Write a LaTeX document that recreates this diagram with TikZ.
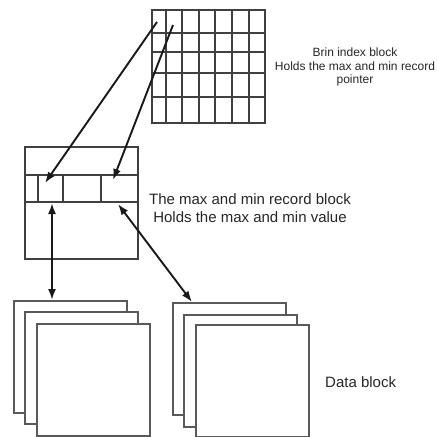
\documentclass[tikz,border=0pt]{standalone}
\usepackage{fontspec}
\setmainfont{Liberation Sans}
\usetikzlibrary{arrows.meta}
\begin{document}
\begin{tikzpicture}[x=1pt,y=-1pt,
  edge/.style={draw=black!75, line width=1.5pt},
  sheet/.style={draw=black!65, line width=1.6pt, fill=white, inner sep=0pt,
    minimum width=113pt, minimum height=112pt, anchor=north west},
  link/.style={draw=black!90, line width=1.9pt,
    -{Latex[length=11pt,width=8pt]}},
  biglink/.style={link, {Latex[length=11pt,width=8pt]}-{Latex[length=11pt,width=8pt]}},
  caption/.style={align=center, inner sep=0pt, text=black!85}]
\useasboundingbox (0,0) rectangle (437,437);

% BRIN index block: 7 x 5 grid
\node[edge, inner sep=0pt, minimum width=113pt, minimum height=113pt,
  anchor=north west] (grid) at (151,9) {};
\foreach \gx in {166,182,199,215,232,249}
  \draw[edge] (\gx,9) -- (\gx,122);
\foreach \gy in {33,52,73,97}
  \draw[edge] (151,\gy) -- (264,\gy);
\coordinate (ptrA) at (157,22);
\coordinate (ptrB) at (173,25);

% max/min record block with its row of cells
\node[edge, inner sep=0pt, minimum width=113pt, minimum height=112pt,
  anchor=north west] (rec) at (24,146) {};
\draw[edge] (24,175) -- (137,175);
\draw[edge] (24,202) -- (137,202);
\foreach \cx in {38,63,101}
  \draw[edge] (\cx,175) -- (\cx,202);
\coordinate (cellA) at (45,183);
\coordinate (cellB) at (113,180);
\coordinate (cellAbot) at (52,203);
\coordinate (cellBbot) at (118,204);

% data pages, two stacks of three
\node[sheet] (d11) at (13,300) {};
\node[sheet] (d12) at (24,311) {};
\node[sheet] (d13) at (36,323) {};
\node[sheet] (d21) at (172,302) {};
\node[sheet] (d22) at (183,314) {};
\node[sheet] (d23) at (195,324) {};
\coordinate (pageA) at (52,300);
\coordinate (pageB) at (192,302);

% pointers
\draw[link] (ptrA) -- (cellA);
\draw[link] (ptrB) -- (cellB);
\draw[biglink] (cellAbot) -- (pageA);
\draw[biglink] (cellBbot) -- (pageB);

% labels
\node[caption, font=\fontsize{12}{13.5}\selectfont] (lblgrid) at (355,67)
  {Brin index block\\Holds the max and min record\\pointer};
\node[caption, font=\fontsize{15}{18}\selectfont] (lblrec) at (250,208)
  {The max and min record block\\Holds the max and min value};
\node[caption, anchor=west, font=\fontsize{15}{18}\selectfont] (lbldata) at (325,382)
  {Data block};
\end{tikzpicture}
\end{document}
